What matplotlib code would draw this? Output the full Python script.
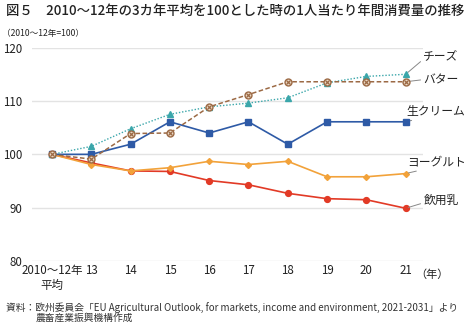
import numpy as np
import matplotlib
matplotlib.use('Agg')
import matplotlib.pyplot as plt

plt.rcParams['font.family'] = ['Noto Sans CJK JP', 'DejaVu Sans']

# 年次と各品目の指数（2010～12年平均=100）
years = ['2010～12年\n平均', '13', '14', '15', '16', '17', '18', '19', '20', '21']
cheese = [100, 101.5, 104.8, 107.5, 108.9, 109.6, 110.6, 113.4, 114.6, 115.0]
butter = [100, 99.1, 103.9, 104.0, 108.9, 111.2, 113.6, 113.6, 113.6, 113.6]
cream = [100, 100, 101.9, 106.1, 104.0, 106.1, 101.9, 106.1, 106.1, 106.1]
yogurt = [100, 98.1, 96.9, 97.5, 98.7, 98.1, 98.7, 95.8, 95.8, 96.4]
milk = [100, 98.4, 96.9, 96.8, 95.1, 94.3, 92.7, 91.7, 91.5, 89.9]

fig = plt.figure(figsize=(4.67, 3.26), dpi=100)
ax = fig.add_axes([0.0685, 0.199, 0.838, 0.655])
x = np.arange(len(years))

for v in [80, 90, 100, 110, 120]:
    ax.axhline(v, color='#e3e3e3', lw=1.0, zorder=0)

ax.plot(x, milk, color='#e23a26', lw=1.2, marker='o', ms=4.2, zorder=3)
ax.plot(x, yogurt, color='#f2a23a', lw=1.2, marker='D', ms=3.0, zorder=3)
ax.plot(x, cream, color='#2e5aa6', lw=1.2, marker='s', ms=3.8, zorder=4)
ax.plot(x, cheese, color='#3aa6aa', lw=1.0, ls=(0, (1, 1.3)), marker='^', ms=4.4, zorder=4)
ax.plot(x, butter, color='#9c6a45', lw=1.1, ls=(0, (3, 1.6)), marker='o', ms=5,
        mfc='#e9d6c2', mec='#9c6a45', mew=1.0, zorder=5)
ax.plot(x, butter, ls='none', marker='x', ms=3.2, mec='#9c6a45', mew=0.9, zorder=6)

ax.set_xlim(-0.51, 9.45)
ax.set_ylim(80, 120)
ax.set_yticks([80, 90, 100, 110, 120])
ax.set_xticks(x)
ax.set_xticklabels(years)
for s in ax.spines.values():
    s.set_visible(False)
ax.tick_params(length=0, labelsize=8.3, colors='#222222')
ax.tick_params(axis='y', pad=7)
ax.tick_params(axis='x', pad=2)
ax.text(9.25, 78.4, '（年）', fontsize=8, va='top', ha='left', color='#222222')

# 系列名と引き出し線
labels = [('チーズ', cheese[-1], 9.45, 118.3, (0, 0.3)),
          ('バター', butter[-1], 9.45, 114.0, (0, 0.5)),
          ('生クリーム', cream[-1], 9.03, 108.1, (0.33, 0.05)),
          ('ヨーグルト', yogurt[-1], 9.05, 98.6, (0.4, 0.05)),
          ('飲用乳', milk[-1], 9.45, 91.4, (0, 0.3))]
for name, yv, lx, ly, rp in labels:
    ax.annotate(name, xy=(9, yv), xytext=(lx, ly), fontsize=8.5, color='#222222',
                ha='left', va='center', annotation_clip=False,
                arrowprops=dict(arrowstyle='-', color='#888888', lw=0.7,
                                shrinkA=0, shrinkB=2, relpos=rp))

fig.text(0.012, 0.965, '図５　2010～12年の3カ年平均を100とした時の1人当たり年間消費量の推移',
         fontsize=9.6, weight='medium', va='center', ha='left', color='#222222')
fig.text(0.004, 0.897, '（2010～12年=100）', fontsize=6.2, va='center', ha='left', color='#222222')
fig.text(0.012, 0.056, '資料：欧州委員会「EU Agricultural Outlook, for markets, income and environment, 2021-2031」より',
         fontsize=7.0, va='center', ha='left', color='#333333')
fig.text(0.077, 0.024, '農畜産業振興機構作成', fontsize=7.0, va='center', ha='left', color='#333333')

fig.savefig('out.png', dpi=100)
